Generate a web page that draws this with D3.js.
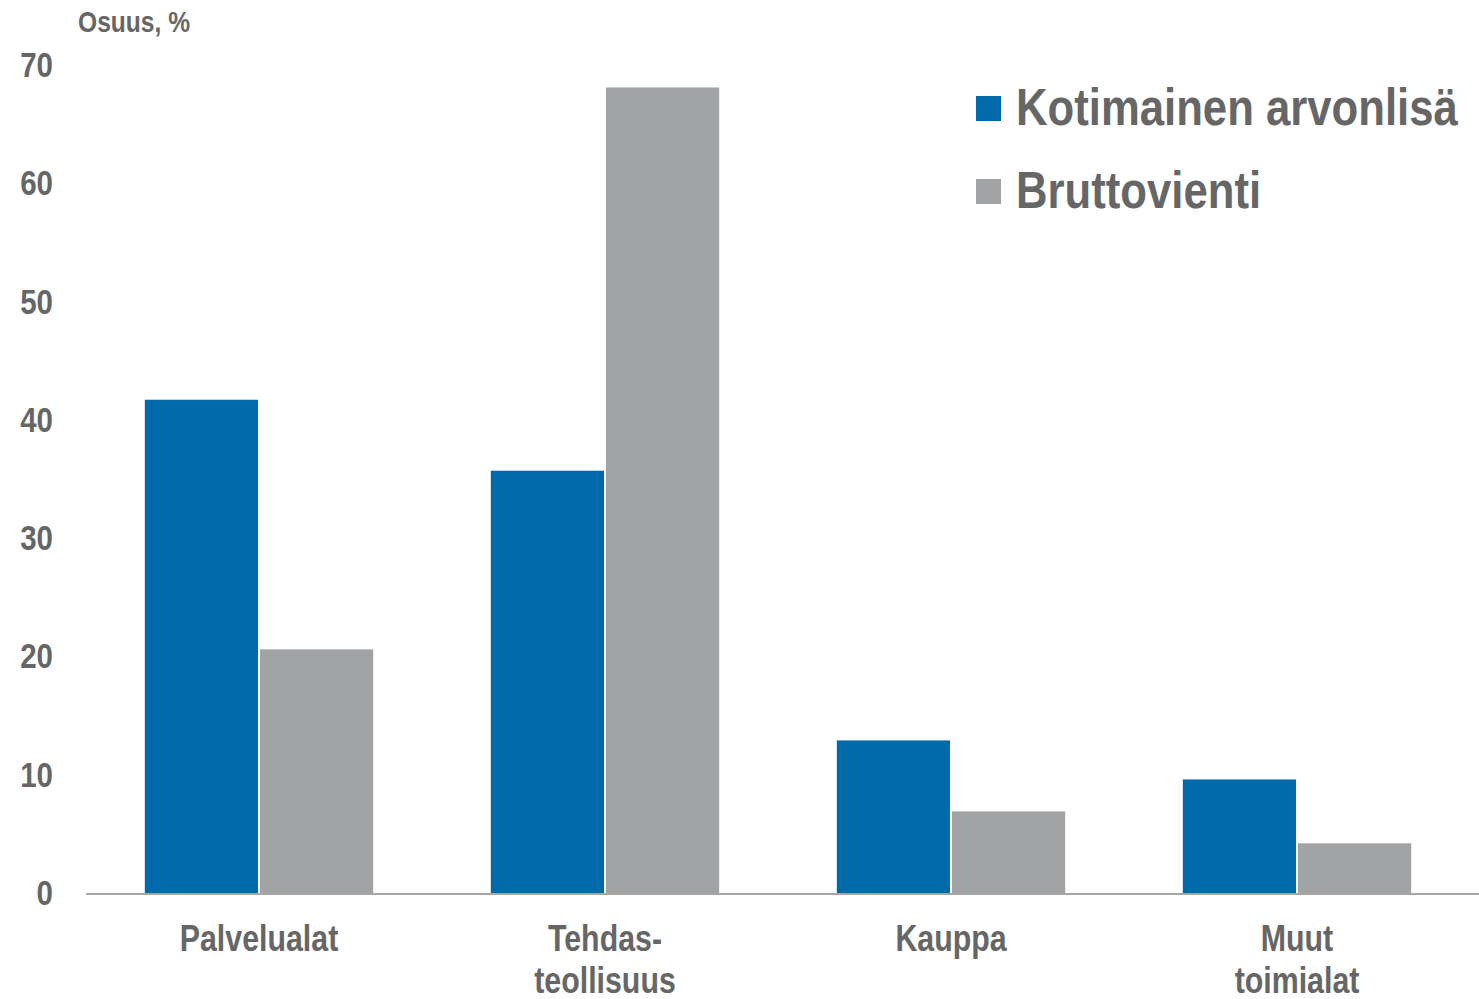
<!DOCTYPE html>
<html>
<head>
  <meta charset="utf-8">
  <title>Osuus</title>
  <script src="https://cdn.jsdelivr.net/npm/d3@7/dist/d3.min.js"></script>
  <style>
    body { margin: 0; background: #fff; }
    text { font-family: "Liberation Sans", Arial, sans-serif; font-weight: bold; fill: #666; }
  </style>
</head>
<body>
  <svg id="chart"></svg>
  <script>
    var categories = [['Palvelualat'], ['Tehdas-', 'teollisuus'], ['Kauppa'], ['Muut', 'toimialat']];
    var seriesNames = ['Kotimainen arvonlisä', 'Bruttovienti'];
    var kotimainen = [41.7, 35.7, 12.9, 9.6];
    var bruttovienti = [20.6, 68.1, 6.9, 4.2];
    var yTicks = [0, 10, 20, 30, 40, 50, 60, 70];
    var colors = ['#0069aa', '#a2a3a5'];

    var width = 1479, height = 999;
    var margin = { top: 65, right: 9, bottom: 106, left: 86 };
    // no narrow font installed, so squeeze the regular one
    var narrow = 'scale(0.82,1)';

    var svg = d3.select('#chart')
      .attr('width', width)
      .attr('height', height);

    var keys = categories.map(d => d.join(' '));

    var x = d3.scaleBand()
      .domain(keys)
      .range([margin.left, width - margin.right])
      .paddingInner(0.34)
      .paddingOuter(0.17);

    var x1 = d3.scaleBand()
      .domain(seriesNames)
      .range([0, x.bandwidth()]);

    var y = d3.scaleLinear()
      .domain([0, 70])
      .range([height - margin.bottom, margin.top]);

    var series = [kotimainen, bruttovienti];

    series.forEach(function (vals, si) {
      svg.append('g')
        .selectAll('rect')
        .data(vals)
        .enter()
        .append('rect')
        .attr('x', (d, i) => x(keys[i]) + x1(seriesNames[si]) + (si === 0 ? 0 : 1))
        .attr('y', d => y(d))
        .attr('width', x1.bandwidth() - 1)
        .attr('height', d => y(0) - y(d))
        .style('fill', colors[si]);
    });

    // y axis labels only
    var yAxis = d3.axisLeft(y)
      .tickValues(yTicks)
      .tickSize(0)
      .tickPadding(0);

    var gy = svg.append('g')
      .attr('transform', 'translate(53,0)')
      .call(yAxis);
    gy.select('.domain').remove();
    gy.selectAll('text')
      .attr('dy', '0.32em')
      .attr('transform', narrow)
      .style('font-size', '36px')
      .style('font-family', null)
      .attr('fill', null);

    // baseline
    svg.append('line')
      .attr('x1', margin.left)
      .attr('x2', width)
      .attr('y1', y(0) + 1)
      .attr('y2', y(0) + 1)
      .style('stroke', '#a6a6a6')
      .style('stroke-width', 2);

    // category labels
    categories.forEach(function (lines, i) {
      var t = svg.append('g')
        .attr('transform', 'translate(' + (x(keys[i]) + x.bandwidth() / 2) + ',951)')
        .append('text')
        .attr('transform', narrow)
        .attr('text-anchor', 'middle')
        .style('font-size', '37px');
      lines.forEach(function (ln, j) {
        t.append('tspan')
          .attr('x', 0)
          .attr('y', j * 42)
          .text(ln);
      });
    });

    // unit label
    svg.append('g')
      .attr('transform', 'translate(78,32)')
      .append('text')
      .attr('transform', narrow)
      .style('font-size', '30px')
      .text('Osuus, %');

    // legend
    var legend = svg.append('g');
    seriesNames.forEach(function (name, i) {
      legend.append('rect')
        .attr('x', 976)
        .attr('y', 96 + i * 83)
        .attr('width', 25)
        .attr('height', 25)
        .style('fill', colors[i]);
      legend.append('g')
        .attr('transform', 'translate(1016,' + (125 + i * 83) + ')')
        .append('text')
        .attr('transform', 'scale(0.84,1)')
        .style('font-size', '52px')
        .text(name);
    });
  </script>
</body>
</html>
